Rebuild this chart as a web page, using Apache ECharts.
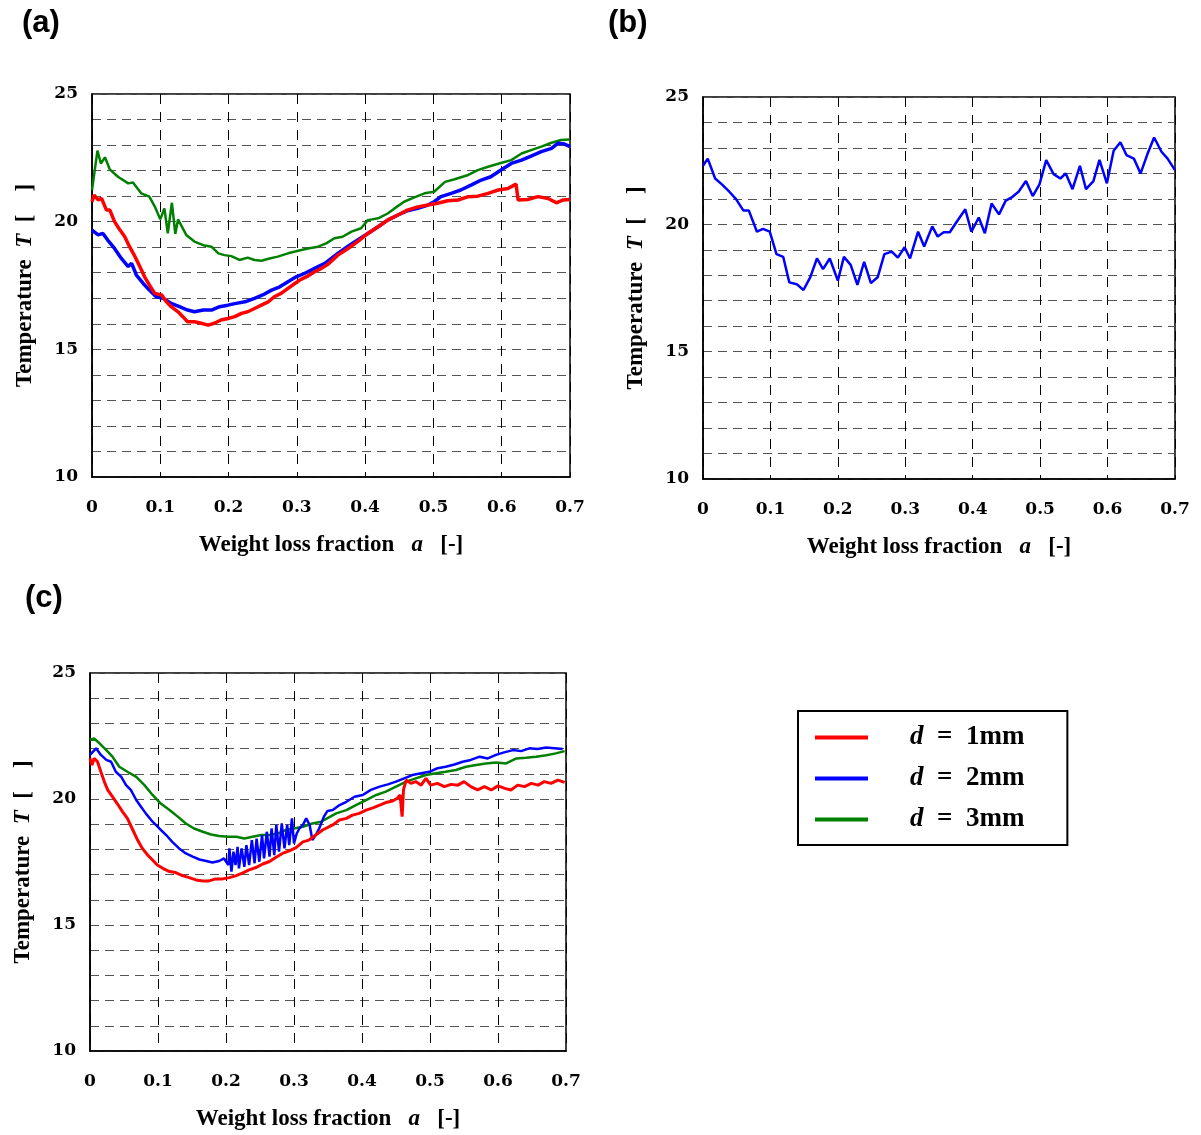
<!DOCTYPE html>
<html>
<head>
<meta charset="utf-8">
<script src="https://cdn.jsdelivr.net/npm/echarts/dist/echarts.min.js"></script>
<style>
  html, body { margin: 0; padding: 0; background: #fff; }
  #chart { width: 1201px; height: 1135px; }
</style>
</head>
<body>
<div id="chart"></div>
<script>
// Particle diameters shown in the legend
const diameters = ['1mm', '2mm', '3mm'];
const panelLabels = ['(a)', '(b)', '(c)'];

// Panel (a): weight loss fraction vs. temperature
const fracA1 = [0,0.003,0.009,0.014,0.021,0.026,0.033,0.041,0.048,0.055,0.063,0.070,0.077,0.084,0.092,0.102,0.109,0.116,0.126,0.133,0.140,0.150,0.160,0.170,0.179,0.189,0.199,0.209,0.219,0.228,0.238,0.248,0.258,0.267,0.277,0.287,0.297,0.306,0.316,0.326,0.336,0.346,0.360,0.375,0.389,0.404,0.419,0.433,0.448,0.462,0.477,0.492,0.506,0.521,0.536,0.551,0.565,0.580,0.595,0.609,0.621,0.624,0.638,0.653,0.668,0.680,0.690,0.700];
const tempA1 = [20.78,21.04,20.85,20.91,20.46,20.46,20.00,19.67,19.41,19.02,18.63,18.24,17.84,17.52,17.19,17.13,16.86,16.67,16.47,16.28,16.08,16.08,16.02,15.95,16.02,16.15,16.21,16.28,16.41,16.47,16.60,16.73,16.86,17.06,17.19,17.39,17.58,17.74,17.87,18.04,18.17,18.34,18.69,18.95,19.22,19.54,19.80,20.06,20.26,20.45,20.58,20.65,20.72,20.82,20.85,20.98,21.00,21.11,21.24,21.30,21.47,20.85,20.87,20.98,20.91,20.74,20.85,20.87];

const fracA2 = [0,0.009,0.016,0.023,0.033,0.043,0.053,0.058,0.065,0.075,0.084,0.094,0.104,0.116,0.128,0.140,0.150,0.163,0.175,0.187,0.199,0.211,0.224,0.238,0.250,0.263,0.275,0.287,0.299,0.311,0.326,0.341,0.360,0.375,0.389,0.404,0.419,0.433,0.448,0.462,0.477,0.492,0.501,0.511,0.526,0.540,0.555,0.570,0.584,0.599,0.614,0.629,0.643,0.658,0.673,0.682,0.692,0.700];
const tempA2 = [19.67,19.48,19.54,19.28,18.95,18.56,18.24,18.37,17.91,17.58,17.32,17.06,17.00,16.80,16.67,16.54,16.47,16.54,16.54,16.67,16.73,16.80,16.86,17.00,17.13,17.32,17.45,17.65,17.84,17.97,18.17,18.37,18.76,19.04,19.28,19.54,19.80,20.06,20.26,20.43,20.52,20.65,20.78,20.98,21.11,21.24,21.43,21.63,21.76,22.02,22.28,22.41,22.57,22.74,22.87,23.07,23.04,22.94];

const fracA3 = [0,0.008,0.013,0.019,0.026,0.038,0.053,0.060,0.072,0.084,0.092,0.100,0.106,0.111,0.117,0.122,0.126,0.138,0.150,0.163,0.175,0.185,0.194,0.204,0.216,0.228,0.238,0.248,0.260,0.272,0.287,0.302,0.316,0.331,0.343,0.355,0.367,0.380,0.394,0.404,0.419,0.433,0.443,0.457,0.472,0.487,0.501,0.517,0.531,0.551,0.565,0.580,0.600,0.614,0.629,0.643,0.658,0.673,0.687,0.699];
const tempA3 = [21.24,22.78,22.28,22.52,22.05,21.76,21.50,21.53,21.11,20.98,20.59,20.09,20.52,19.54,20.74,19.52,20.09,19.48,19.22,19.08,19.02,18.76,18.69,18.65,18.50,18.59,18.50,18.47,18.56,18.63,18.76,18.86,18.95,19.02,19.15,19.35,19.41,19.61,19.74,20.06,20.13,20.32,20.52,20.78,20.95,21.11,21.17,21.56,21.66,21.83,22.02,22.15,22.31,22.41,22.67,22.80,22.94,23.09,23.20,23.22];

// Panel (b): single 2mm run
const fracB2 = [0,0.007,0.018,0.028,0.039,0.049,0.060,0.068,0.080,0.089,0.099,0.109,0.119,0.128,0.139,0.149,0.159,0.169,0.178,0.188,0.200,0.209,0.219,0.229,0.239,0.249,0.259,0.269,0.280,0.289,0.299,0.307,0.319,0.328,0.340,0.348,0.357,0.366,0.377,0.389,0.398,0.409,0.418,0.428,0.439,0.449,0.459,0.468,0.479,0.489,0.499,0.509,0.520,0.530,0.538,0.548,0.559,0.568,0.579,0.588,0.599,0.609,0.619,0.628,0.639,0.649,0.659,0.669,0.680,0.689,0.700];
const tempB2 = [22.30,22.58,21.80,21.57,21.28,20.99,20.54,20.54,19.71,19.82,19.71,18.83,18.72,17.72,17.65,17.42,17.92,18.66,18.24,18.66,17.79,18.72,18.41,17.62,18.53,17.69,17.92,18.83,18.93,18.69,19.10,18.66,19.71,19.13,19.92,19.52,19.69,19.69,20.13,20.59,19.71,20.27,19.65,20.82,20.39,20.93,21.08,21.28,21.70,21.11,21.57,22.52,21.97,21.80,22.00,21.38,22.30,21.38,21.70,22.53,21.61,22.89,23.22,22.72,22.58,22.00,22.75,23.41,22.85,22.58,22.13];

// Panel (c)
const fracC1 = [0,0.003,0.006,0.011,0.016,0.021,0.026,0.033,0.040,0.048,0.055,0.063,0.070,0.077,0.085,0.092,0.099,0.107,0.117,0.126,0.136,0.146,0.156,0.166,0.175,0.185,0.195,0.205,0.215,0.224,0.234,0.244,0.254,0.264,0.273,0.283,0.293,0.303,0.313,0.322,0.332,0.342,0.357,0.367,0.377,0.386,0.396,0.406,0.416,0.426,0.435,0.445,0.452,0.456,0.459,0.461,0.465,0.472,0.479,0.487,0.494,0.501,0.511,0.521,0.531,0.541,0.550,0.560,0.570,0.580,0.590,0.600,0.610,0.619,0.629,0.639,0.649,0.659,0.668,0.678,0.688,0.698];
const tempC1 = [21.61,21.35,21.61,21.48,21.08,20.69,20.36,20.09,19.82,19.49,19.23,18.77,18.37,18.04,17.77,17.58,17.38,17.25,17.12,17.08,16.96,16.88,16.79,16.75,16.75,16.83,16.83,16.88,16.96,17.06,17.19,17.28,17.42,17.52,17.68,17.84,17.94,18.07,18.30,18.37,18.57,18.77,18.97,19.17,19.23,19.36,19.43,19.56,19.65,19.76,19.86,19.92,20.03,20.16,19.30,20.36,20.75,20.62,20.69,20.55,20.82,20.55,20.62,20.49,20.58,20.55,20.69,20.49,20.36,20.49,20.36,20.52,20.42,20.36,20.55,20.49,20.62,20.55,20.69,20.62,20.75,20.66];

const fracC2 = [0,0.009,0.016,0.024,0.031,0.038,0.046,0.053,0.060,0.068,0.075,0.082,0.092,0.102,0.112,0.121,0.131,0.141,0.151,0.161,0.171,0.180,0.190,0.197,0.2035,0.205,0.208,0.211,0.214,0.217,0.219,0.223,0.227,0.230,0.234,0.238,0.242,0.245,0.249,0.253,0.256,0.260,0.264,0.267,0.271,0.274,0.278,0.282,0.286,0.290,0.293,0.297,0.300,0.304,0.308,0.313,0.318,0.323,0.327,0.332,0.337,0.344,0.349,0.357,0.367,0.377,0.389,0.401,0.413,0.426,0.438,0.450,0.462,0.474,0.487,0.499,0.511,0.523,0.536,0.548,0.560,0.573,0.585,0.597,0.609,0.622,0.634,0.646,0.658,0.671,0.683,0.695];
const tempC2 = [21.75,22.01,21.75,21.55,21.48,21.08,20.88,20.55,20.36,19.96,19.69,19.43,19.10,18.83,18.57,18.30,18.04,17.84,17.71,17.60,17.54,17.48,17.54,17.64,17.38,18.04,17.12,17.91,17.38,18.10,17.25,18.04,17.31,18.17,17.38,18.37,17.45,18.43,17.51,18.57,17.64,18.70,17.71,18.83,17.77,18.97,17.91,19.03,18.04,18.97,18.17,19.23,18.24,18.63,18.83,18.97,19.23,18.97,18.37,18.57,18.83,19.30,19.52,19.56,19.76,19.89,20.09,20.16,20.36,20.49,20.58,20.69,20.82,20.95,21.02,21.08,21.22,21.28,21.37,21.48,21.55,21.68,21.61,21.75,21.85,21.94,21.90,22.01,21.98,22.04,22.01,21.98];

const fracC3 = [0,0.006,0.014,0.024,0.033,0.043,0.055,0.068,0.080,0.092,0.104,0.117,0.129,0.141,0.153,0.166,0.178,0.190,0.203,0.215,0.227,0.239,0.252,0.264,0.276,0.288,0.300,0.313,0.327,0.340,0.362,0.377,0.391,0.406,0.421,0.435,0.450,0.465,0.479,0.494,0.509,0.523,0.538,0.553,0.568,0.582,0.597,0.612,0.627,0.641,0.656,0.671,0.685,0.698];
const tempC3 = [22.34,22.40,22.21,21.94,21.68,21.28,21.08,20.88,20.55,20.16,19.82,19.56,19.30,19.03,18.83,18.70,18.59,18.53,18.50,18.50,18.43,18.50,18.57,18.57,18.63,18.77,18.83,18.90,19.03,19.10,19.43,19.56,19.76,19.96,20.16,20.29,20.49,20.69,20.82,20.95,21.02,21.08,21.15,21.28,21.35,21.41,21.45,21.41,21.61,21.64,21.68,21.74,21.81,21.90];

// ---------------------------------------------------------------------------
const colors = { '1mm': '#ff0000', '2mm': '#0000ff', '3mm': '#008000' };
const tickFont = 'DejaVu Serif';
const titleFont = 'Liberation Serif';

const pairs = (xs, ys) => xs.map((x, i) => [x, ys[i]]);

const grids = [
  { left: 92,  top: 94,  width: 478, height: 383 },
  { left: 703, top: 97,  width: 472, height: 382 },
  { left: 90,  top: 673, width: 476, height: 378 }
].map(g => Object.assign({ show: true, borderColor: '#000', borderWidth: 1.5, backgroundColor: 'transparent' }, g));

const nameStyle = {
  fontFamily: titleFont, fontWeight: 'bold', fontSize: 23, color: '#000',
  rich: { i: { fontFamily: titleFont, fontWeight: 'bold', fontStyle: 'italic', fontSize: 23, color: '#000' } }
};

const xAxes = grids.map((g, i) => ({
  gridIndex: i, type: 'value', min: 0, max: 0.7, interval: 0.1,
  name: 'Weight loss fraction   {i|a}   [-]',
  nameLocation: 'middle', nameGap: 57, nameTextStyle: nameStyle,
  axisLine: { show: true, lineStyle: { color: '#000', width: 1.5 } },
  axisTick: { show: false },
  axisLabel: {
    margin: 22, color: '#000', fontFamily: tickFont, fontWeight: 'bold', fontSize: 17,
    formatter: v => (v === 0 ? '0' : v.toFixed(1))
  },
  splitLine: { show: true, lineStyle: { color: '#000', width: 1, type: [10, 8] } }
}));

const yAxes = grids.map((g, i) => ({
  gridIndex: i, type: 'value', min: 10, max: 25, interval: 1,
  name: 'Temperature  {i|T}  [    ]',
  nameLocation: 'middle', nameGap: 55, nameTextStyle: nameStyle,
  axisLine: { show: true, lineStyle: { color: '#000', width: 1.5 } },
  axisTick: { show: false },
  axisLabel: {
    margin: 14, color: '#000', fontFamily: tickFont, fontWeight: 'bold', fontSize: 17,
    formatter: v => (Math.round(v) % 5 === 0 ? String(Math.round(v)) : '')
  },
  splitLine: { show: true, lineStyle: { color: '#555', width: 1.2, type: [9, 6] } }
}));

function line(name, panel, xs, ys, width) {
  return {
    name, type: 'line', xAxisIndex: panel, yAxisIndex: panel,
    data: pairs(xs, ys), showSymbol: false, symbol: 'none',
    color: colors[name],
    lineStyle: { color: colors[name], width: width },
    z: 3
  };
}

const series = [
  line('3mm', 0, fracA3, tempA3, 2.5),
  line('2mm', 0, fracA2, tempA2, 3.5),
  line('1mm', 0, fracA1, tempA1, 3.5),
  line('2mm', 1, fracB2, tempB2, 2.5),
  line('3mm', 2, fracC3, tempC3, 2.5),
  line('2mm', 2, fracC2, tempC2, 2.5),
  line('1mm', 2, fracC1, tempC1, 3)
];

const labelPos = [[22, 23], [608, 23], [25, 598]];

const option = {
  animation: false,
  backgroundColor: '#fff',
  grid: grids,
  xAxis: xAxes,
  yAxis: yAxes,
  series: series,
  legend: {
    orient: 'vertical', left: 798, top: 711,
    padding: [13, 43, 12, 17],
    itemGap: 14, itemWidth: 53, itemHeight: 4,
    icon: 'rect', selectedMode: false,
    borderColor: '#000', borderWidth: 2,
    data: diameters,
    formatter: n => '{s|}{i|d}{n|  =  ' + n + '}',
    textStyle: {
      color: '#000',
      rich: {
        s: { width: 37 },
        i: { fontFamily: titleFont, fontStyle: 'italic', fontWeight: 'bold', fontSize: 27, lineHeight: 26, color: '#000' },
        n: { fontFamily: titleFont, fontWeight: 'bold', fontSize: 27, lineHeight: 26, color: '#000' }
      }
    }
  },
  graphic: panelLabels.map((t, i) => ({
    type: 'text', x: labelPos[i][0], y: labelPos[i][1],
    style: { text: t, font: 'bold 31px "Liberation Sans", Arial, sans-serif', fill: '#000', verticalAlign: 'middle' }
  }))
};

const chart = echarts.init(document.getElementById('chart'), null, { renderer: 'canvas' });
chart.setOption(option);
</script>
</body>
</html>
